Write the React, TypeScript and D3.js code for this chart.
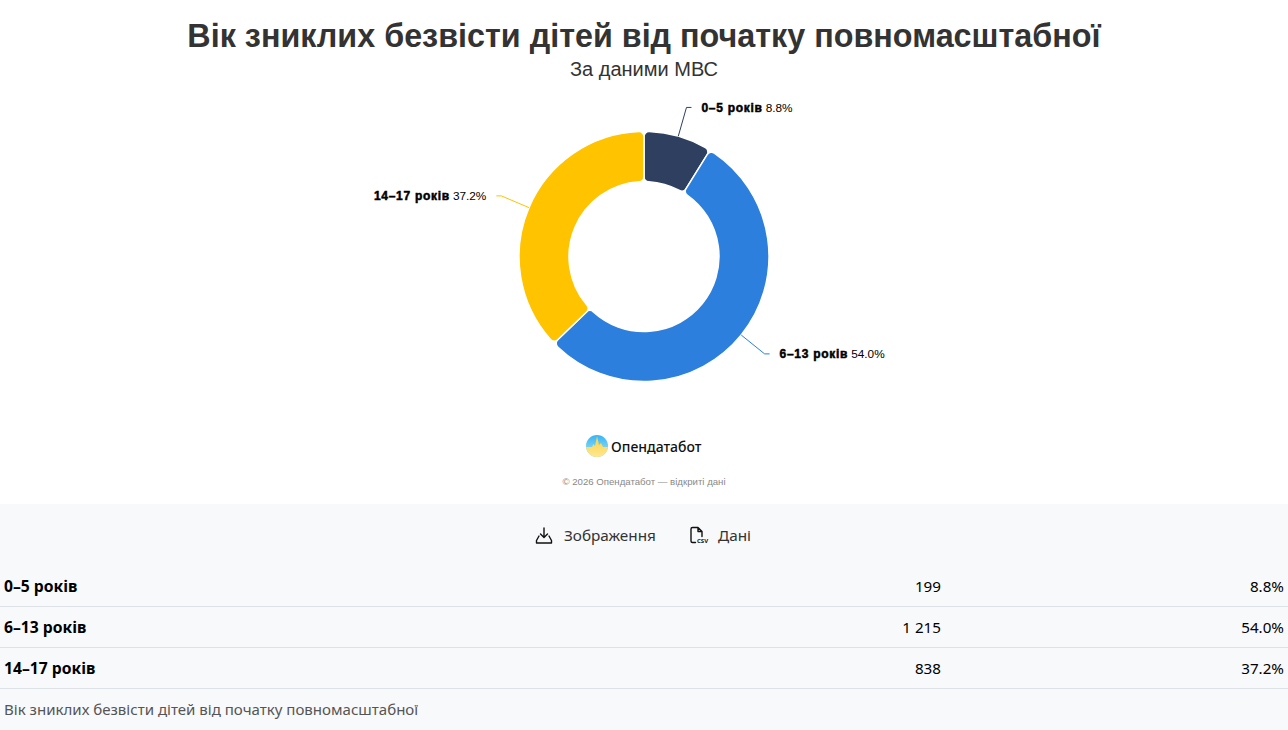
import React from 'react';
import * as d3 from 'd3';

const categories = ['0–5 років', '6–13 років', '14–17 років'];
const counts = [199, 1215, 838];
const shares = ['8.8%', '54.0%', '37.2%'];
const countLabels = ['199', '1 215', '838'];
const colors = ['#2f3f5f', '#2c7fdc', '#ffc300'];

const title = 'Вік зниклих безвісти дітей від початку повномасштабної';
const subtitle = 'За даними МВС';
const W = 1288;
const H = 730;
const cx = 644;
const cy = 256.5;
const outer = 125;
const inner = 75;
const chartFont = '"Liberation Sans", Arial, sans-serif';
const tableFont = '"Noto Sans", sans-serif';

const pie = d3.pie<number>().sort(null)(counts);
const arc = d3.arc<d3.PieArcDatum<number>>().innerRadius(inner).outerRadius(outer).cornerRadius(5);
const point = (a: number, r: number): [number, number] => [r * Math.sin(a), -r * Math.cos(a)];

const App: React.FC = () => {
  const rowY = [566, 607, 648];
  return (
    <svg width={W} height={H} viewBox={`0 0 ${W} ${H}`} style={{ position: 'absolute', left: 0, top: 0, display: 'block' }}>
      <defs>
        <linearGradient id="logoBlue" x1="0" y1="0" x2="0" y2="1">
          <stop offset="0" stopColor="#35b4f6" />
          <stop offset="0.6" stopColor="#7fd2f0" />
        </linearGradient>
        <linearGradient id="logoYellow" x1="0" y1="0" x2="0" y2="1">
          <stop offset="0" stopColor="#f8cf45" />
          <stop offset="1" stopColor="#ffe88f" />
        </linearGradient>
        <clipPath id="logoClip">
          <circle cx={597} cy={446} r={11} />
        </clipPath>
      </defs>
      <rect width={W} height={H} fill="#fff" />
      <rect y={504} width={W} height={226} fill="#f8f9fb" />

      <text x={cx} y={47} textAnchor="middle" fontFamily={chartFont} fontSize={32.32} fontWeight={700} fill="#333">{title}</text>
      <text x={cx} y={76} textAnchor="middle" fontFamily={chartFont} fontSize={20} fill="#333">{subtitle}</text>

      <g transform={`translate(${cx},${cy})`}>
        {pie.map((d, i) => {
          const mid = (d.startAngle + d.endAngle) / 2;
          const [x0, y0] = point(mid, outer);
          const [x1, y1] = point(mid, 155);
          const dir = Math.sin(mid) > 0 ? 1 : -1;
          const line = d3.line()([[x0, y0], [x1, y1], [x1 + dir * 5, y1]]) as string;
          return (
            <g key={categories[i]}>
              <path d={arc(d) as string} fill={colors[i]} stroke="#fff" strokeWidth={1.5} />
              <path d={line} fill="none" stroke={colors[i]} strokeWidth={1} />
              <text x={x1 + dir * 15} y={y1 + 4.5} textAnchor={dir > 0 ? 'start' : 'end'} fontFamily={chartFont} fontSize={12} fill="#000">
                <tspan fontWeight={700} stroke="#000" strokeWidth={0.5} letterSpacing={0.72}>{categories[i]}</tspan>
                <tspan dx={3} fontSize={11.8}>{shares[i]}</tspan>
              </text>
            </g>
          );
        })}
      </g>

      <g clipPath="url(#logoClip)">
        <rect x={586} y={435} width={22} height={22} fill="url(#logoBlue)" />
        <polygon points="586,447 592,447 593.5,444 595,446 597,436 599,445 601,443 603,447 608,447 608,457 586,457" fill="url(#logoYellow)" />
      </g>
      <text x={611} y={451.5} fontFamily={tableFont} fontSize={14} fontWeight={500} fill="#111">Опендатабот</text>
      <text x={644} y={485} textAnchor="middle" fontFamily={chartFont} fontSize={9.65} fill="#888">© 2026 Опендатабот — відкриті дані</text>

      <g fill="none" stroke="#111" strokeWidth={1.4} strokeLinecap="round" strokeLinejoin="round">
        <path d="M544 528v9M540.5 534l3.5 3.5 3.5-3.5M539 536l-2.5 4.5v2.5h15v-2.5L549 536" />
        <path d="M691 541v-12a1.5 1.5 0 0 1 1.5-1.5h5.5l4 4v5M691 541a1.5 1.5 0 0 0 1.5 1.5h3M698 527.5v4h4" />
      </g>
      <text x={697} y={542.5} fontFamily={tableFont} fontSize={6} fontWeight={700} fill="#111">CSV</text>
      <text x={564} y={541} fontFamily={tableFont} fontSize={15.3} fill="#333">Зображення</text>
      <text x={718} y={541} fontFamily={tableFont} fontSize={15.3} fill="#333">Дані</text>

      {categories.map((c, i) => (
        <g key={c} fontFamily={tableFont} fontSize={15.2} fill="#000">
          <text x={4} y={rowY[i] + 26} fontSize={15.7} fontWeight={700}>{c}</text>
          <text x={941} y={rowY[i] + 26} textAnchor="end">{countLabels[i]}</text>
          <text x={1284} y={rowY[i] + 26} textAnchor="end">{shares[i]}</text>
          <line x1={0} x2={W} y1={rowY[i] + 40.5} y2={rowY[i] + 40.5} stroke="#dee2e6" />
        </g>
      ))}
      <text x={4} y={715} fontFamily={tableFont} fontSize={15.05} fill="#555">{title}</text>
    </svg>
  );
};

export default App;
